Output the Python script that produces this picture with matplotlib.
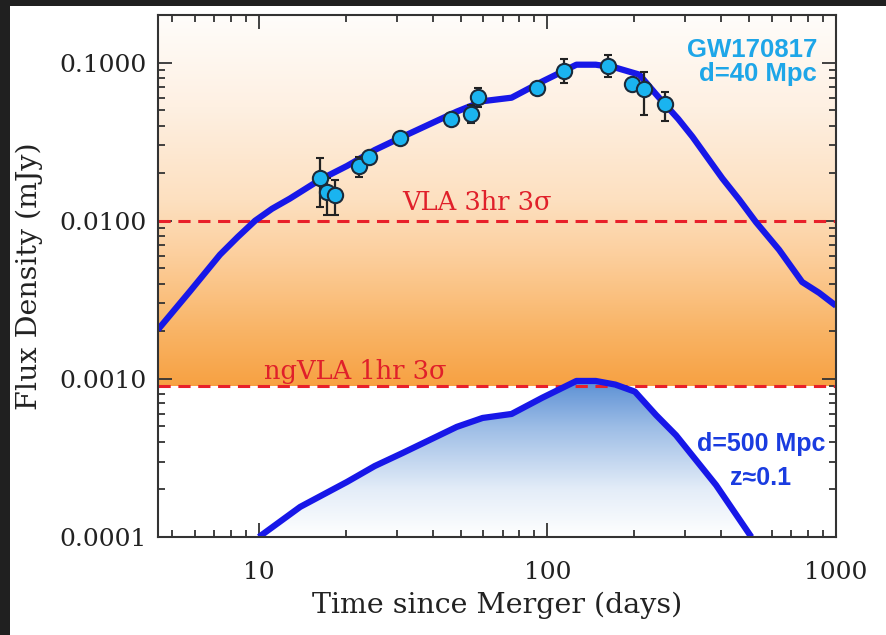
import numpy as np
import matplotlib
matplotlib.use('Agg')
import matplotlib.pyplot as plt
from matplotlib.colors import LinearSegmentedColormap
from matplotlib.patches import Rectangle

# model light curve for GW170817 at 40 Mpc
t_near = [4.47, 5.77, 7.33, 8.45, 9.7, 11.1, 12.8, 16.3, 20.2, 25.2, 31.5,
          48.5, 59.6, 75.1, 96, 126, 147, 172, 208, 238, 259, 284, 318, 404, 462, 528,
          635, 763, 874, 1000]
f_near = [0.00205, 0.00358, 0.0061, 0.0079, 0.0100, 0.0119, 0.0138, 0.0182, 0.0222,
          0.028, 0.034, 0.049, 0.057, 0.060, 0.076, 0.097, 0.097, 0.093, 0.084, 0.063,
          0.053, 0.044, 0.034, 0.0185, 0.0136, 0.0098, 0.00655, 0.0041, 0.0035, 0.0029]

# same model moved to 500 Mpc
t_far = [10, 13.9, 20.2, 25.2, 31.5, 48.5, 59.6, 75.1, 96, 126, 147, 172, 201, 238,
         279, 384, 509]
f_far = [0.0001, 0.000155, 0.000223, 0.000281, 0.00034, 0.000497, 0.000566, 0.0006,
         0.00076, 0.00097, 0.00097, 0.00092, 0.00083, 0.00059, 0.00044, 0.000213, 0.0001]

# radio detections
t_obs = [16.3, 17.2, 18.3, 22.2, 24.0, 30.8, 46.2, 54.2, 57.3, 92.3, 114.5, 161.5,
         197, 216.6, 256]
f_obs = [0.0187, 0.0153, 0.0146, 0.0223, 0.0254, 0.0335, 0.0443, 0.0476, 0.061,
         0.0695, 0.089, 0.0957, 0.0737, 0.0684, 0.0551]
f_lo = [0.0123, 0.0109, 0.0109, 0.019, 0.0232, 0.031, 0.041, 0.0417, 0.0527,
        0.065, 0.0747, 0.0816, 0.069, 0.0469, 0.0430]
f_hi = [0.0251, 0.0187, 0.0182, 0.0254, 0.0278, 0.036, 0.047, 0.0542, 0.0695,
        0.074, 0.106, 0.111, 0.079, 0.0877, 0.0655]

vla_limit = 0.01
ngvla_limit = 0.0009

xmin, xmax = 4.47, 1000
ymin, ymax = 1e-4, 0.2

fig = plt.figure(figsize=(8.86, 6.35), dpi=100)
fig.patch.set_facecolor('#202020')
fig.patches.append(Rectangle((10 / 886, 0), 1, 1 - 6 / 635, transform=fig.transFigure,
                             facecolor='white', edgecolor='none', zorder=-10))
ax = fig.add_axes([158 / 886, 1 - 537 / 635, 678 / 886, 522 / 635])

def yfrac(v):
    return (np.log10(v) - np.log10(ymin)) / (np.log10(ymax) - np.log10(ymin))

orange = LinearSegmentedColormap.from_list('orange', [
    (0.0, '#f7a142'), (0.15, '#f9b466'), (0.35, '#fccf9d'),
    (0.5, '#fde0c0'), (0.75, '#fef0e2'), (1.0, '#fffdfb')], N=1024)
grad = np.linspace(0, 1, 1024).reshape(-1, 1)
ax.imshow(grad, cmap=orange, origin='lower', aspect='auto', interpolation='bilinear',
          extent=[0, 1, yfrac(ngvla_limit), 1], transform=ax.transAxes, zorder=0)

blue = LinearSegmentedColormap.from_list('blue', [
    (0.0, '#ffffff'), (0.3, '#e4edf8'), (0.7, '#9dbde6'), (1.0, '#5a8fd4')], N=1024)
im = ax.imshow(grad, cmap=blue, origin='lower', aspect='auto', interpolation='bilinear',
               extent=[0, 1, 0, yfrac(0.00098)], transform=ax.transAxes, zorder=0)

ax.set_xscale('log')
ax.set_yscale('log')
ax.set_xlim(xmin, xmax)
ax.set_ylim(ymin, ymax)

area = ax.fill_between(t_far, f_far, ymin, facecolor='none', edgecolor='none')
im.set_clip_path(area.get_paths()[0], ax.transData)

ax.axhline(vla_limit, color='#e8202a', lw=2.2, dashes=(4, 2.5), zorder=2)
ax.axhline(ngvla_limit, color='#e8202a', lw=2.2, dashes=(4, 2.5), zorder=2)

ax.plot(t_near, f_near, color='#1717e8', lw=4.5, zorder=3, solid_capstyle='butt')
ax.plot(t_far, f_far, color='#1717e8', lw=4.5, zorder=3, solid_capstyle='butt')

yerr = [np.array(f_obs) - np.array(f_lo), np.array(f_hi) - np.array(f_obs)]
ax.errorbar(t_obs, f_obs, yerr=yerr, fmt='o', ms=11, mfc='#1ab4f0', mec='#1a2a3a',
            mew=1.5, ecolor='#222222', elinewidth=1.6, capsize=3, capthick=1.6, zorder=4)

serif = 'DejaVu Serif'
ax.text(57, 0.0108, 'VLA 3hr 3σ', color='#e0202a', family=serif, fontsize=18.5,
        ha='center', va='bottom', zorder=5)
ax.text(21.5, 0.00093, 'ngVLA 1hr 3σ', color='#e0202a', family=serif, fontsize=18.5,
        ha='center', va='bottom', zorder=5)

ax.text(0.972, 0.955, 'GW170817\nd=40 Mpc', transform=ax.transAxes, ha='right', va='top',
        color='#1ea6e8', family='Liberation Sans', fontweight='bold', fontsize=18.5,
        linespacing=1.0, zorder=5)
ax.text(0.889, 0.146, 'd=500 Mpc\nz≈0.1', transform=ax.transAxes, ha='center', va='center',
        color='#1a3ce0', family='Liberation Sans', fontweight='bold', fontsize=18,
        linespacing=1.5, zorder=5)

ax.set_xticks([10, 100, 1000], labels=['10', '100', '1000'])
ax.set_yticks([1e-4, 1e-3, 1e-2, 1e-1], labels=['0.0001', '0.0010', '0.0100', '0.1000'])
ax.tick_params(which='both', direction='in', top=True, right=True, color='#333333',
               width=1.3, labelsize=18, labelcolor='#222222')
ax.tick_params(which='major', length=10)
ax.tick_params(which='minor', length=5)
ax.tick_params(axis='x', which='major', pad=17)
ax.tick_params(axis='y', which='major', pad=8)
for lab in ax.get_xticklabels() + ax.get_yticklabels():
    lab.set_family(serif)
for s in ax.spines.values():
    s.set_color('#333333')
    s.set_linewidth(1.5)
    s.set_zorder(6)

ax.set_xlabel('Time since Merger (days)', family=serif, fontsize=20.5, color='#222222',
              labelpad=6)
ax.set_ylabel('Flux Density (mJy)', family=serif, fontsize=20.5, color='#222222',
              labelpad=12)

fig.savefig('out.png', dpi=100)
